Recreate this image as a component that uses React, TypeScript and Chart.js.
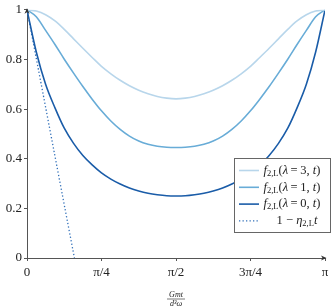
import { useEffect, useRef } from "react";
import { Chart, registerables } from "chart.js";
Chart.register(...registerables);

// time samples t (radians), step π/32
const T = [0, 0.098, 0.196, 0.295, 0.393, 0.491, 0.589, 0.687, 0.785, 0.884, 0.982, 1.08, 1.178, 1.276, 1.374, 1.473, 1.571,
  1.669, 1.767, 1.865, 1.963, 2.062, 2.16, 2.258, 2.356, 2.454, 2.553, 2.651, 2.749, 2.847, 2.945, 3.043, 3.142];
const F_LAMBDA3 = [1, 0.995, 0.98, 0.955, 0.921, 0.883, 0.845, 0.808, 0.772, 0.742, 0.716, 0.694, 0.676, 0.662, 0.651, 0.644, 0.641,
  0.644, 0.651, 0.662, 0.676, 0.694, 0.716, 0.742, 0.772, 0.808, 0.845, 0.883, 0.921, 0.955, 0.98, 0.995, 1];
const F_LAMBDA1 = [1, 0.972, 0.917, 0.86, 0.801, 0.745, 0.691, 0.64, 0.593, 0.552, 0.518, 0.491, 0.471, 0.458, 0.45, 0.446, 0.445,
  0.446, 0.45, 0.458, 0.471, 0.491, 0.518, 0.552, 0.593, 0.64, 0.691, 0.745, 0.801, 0.86, 0.917, 0.972, 1];
const F_LAMBDA0 = [1, 0.83, 0.7, 0.605, 0.523, 0.462, 0.413, 0.375, 0.343, 0.318, 0.298, 0.282, 0.27, 0.261, 0.255, 0.251, 0.25,
  0.251, 0.255, 0.261, 0.27, 0.282, 0.298, 0.318, 0.343, 0.375, 0.413, 0.462, 0.523, 0.605, 0.7, 0.83, 1];
const LINEAR_T = [0, 0.5];
const LINEAR_F = [1, 0];

const X_TICKS = [0, Math.PI / 4, Math.PI / 2, (3 * Math.PI) / 4, Math.PI];
const X_TICK_LABELS = ["0", "π/4", "π/2", "3π/4", "π"];
const Y_TICKS = [0, 0.2, 0.4, 0.6, 0.8, 1];
const Y_TICK_LABELS = ["0", "0.2", "0.4", "0.6", "0.8", "1"];

type Seg = { t: string; i?: boolean; sub?: boolean };
const LEGEND_LABELS: Seg[][] = [
  [{ t: "f", i: true }, { t: "2,L", sub: true }, { t: "(" }, { t: "λ", i: true }, { t: "\u2009=\u20093, " }, { t: "t", i: true }, { t: ")" }],
  [{ t: "f", i: true }, { t: "2,L", sub: true }, { t: "(" }, { t: "λ", i: true }, { t: "\u2009=\u20091, " }, { t: "t", i: true }, { t: ")" }],
  [{ t: "f", i: true }, { t: "2,L", sub: true }, { t: "(" }, { t: "λ", i: true }, { t: "\u2009=\u20090, " }, { t: "t", i: true }, { t: ")" }],
  [{ t: "1 − " }, { t: "η", i: true }, { t: "2,L", sub: true }, { t: "t", i: true }],
];

const FONT = '"Liberation Serif", "DejaVu Serif", serif';
const AXIS_COLOR = "#555";

function drawRich(ctx: CanvasRenderingContext2D, segs: Seg[], x: number, y: number, size: number, measure: boolean) {
  let cx = x;
  for (const s of segs) {
    const fs = s.sub ? size * 0.68 : size;
    ctx.font = `${s.i ? "italic " : ""}${fs}px ${FONT}`;
    const w = ctx.measureText(s.t).width;
    if (!measure) ctx.fillText(s.t, cx, s.sub ? y + size * 0.25 : y);
    cx += w;
  }
  return cx - x;
}

const overlay = {
  id: "overlay",
  afterDraw(chart: any) {
    const ctx: CanvasRenderingContext2D = chart.ctx;
    const { left, right, top, bottom } = chart.chartArea;
    ctx.save();
    // arrows
    ctx.fillStyle = "#333";
    ctx.beginPath();
    ctx.moveTo(right + 1.5, bottom);
    ctx.lineTo(right - 4, bottom - 2.5);
    ctx.lineTo(right - 2.5, bottom);
    ctx.lineTo(right - 4, bottom + 2.5);
    ctx.closePath();
    ctx.fill();
    ctx.beginPath();
    ctx.moveTo(left, top - 1.5);
    ctx.lineTo(left - 2.5, top + 4);
    ctx.lineTo(left, top + 2.5);
    ctx.lineTo(left + 2.5, top + 4);
    ctx.closePath();
    ctx.fill();

    // legend
    const bx = 234.5, by = 158.5, bw = 96, bh = 74;
    ctx.fillStyle = "#fff";
    ctx.fillRect(bx, by, bw, bh);
    ctx.strokeStyle = "#666";
    ctx.lineWidth = 1;
    ctx.strokeRect(bx, by, bw, bh);
    ctx.textBaseline = "middle";
    ctx.textAlign = "left";
    const sets = chart.data.datasets;
    for (let i = 0; i < LEGEND_LABELS.length; i++) {
      const y = 170.5 + i * 16.8;
      const ds = sets[i];
      ctx.save();
      ctx.strokeStyle = ds.borderColor;
      ctx.lineWidth = ds.borderWidth;
      ctx.setLineDash(ds.borderDash || []);
      ctx.beginPath();
      ctx.moveTo(239, y);
      ctx.lineTo(259, y);
      ctx.stroke();
      ctx.restore();
      ctx.fillStyle = "#222";
      const w = drawRich(ctx, LEGEND_LABELS[i], 0, y, 12.5, true);
      const sx = i < 3 ? 263.5 : 297 - w / 2;
      drawRich(ctx, LEGEND_LABELS[i], sx, y, 12.5, false);
    }

    // x-axis title as fraction
    const cx = chart.scales.x.getPixelForValue(Math.PI / 2);
    ctx.fillStyle = "#222";
    ctx.textAlign = "center";
    ctx.font = `italic 8px ${FONT}`;
    ctx.fillText("Gmt", cx, 294.5);
    ctx.fillText("d³ω", cx, 303.5);
    ctx.strokeStyle = "#222";
    ctx.lineWidth = 0.6;
    ctx.beginPath();
    ctx.moveTo(cx - 9, 299);
    ctx.lineTo(cx + 9, 299);
    ctx.stroke();
    ctx.restore();
  },
};

export default function App() {
  const ref = useRef<HTMLCanvasElement>(null);
  useEffect(() => {
    if (!ref.current) return;
    const mk = (xs: number[], ys: number[]) => xs.map((x, i) => ({ x, y: ys[i] }));
    const chart = new Chart(ref.current, {
      type: "line",
      data: {
        datasets: [
          { label: "f(λ=3,t)", data: mk(T, F_LAMBDA3), borderColor: "rgb(184,214,235)", borderWidth: 1.6, pointRadius: 0, cubicInterpolationMode: "monotone", fill: false },
          { label: "f(λ=1,t)", data: mk(T, F_LAMBDA1), borderColor: "rgb(104,172,215)", borderWidth: 1.6, pointRadius: 0, cubicInterpolationMode: "monotone", fill: false },
          { label: "f(λ=0,t)", data: mk(T, F_LAMBDA0), borderColor: "rgb(26,92,168)", borderWidth: 1.6, pointRadius: 0, cubicInterpolationMode: "monotone", fill: false },
          { label: "1-ηt", data: mk(LINEAR_T, LINEAR_F), borderColor: "rgb(50,112,185)", borderWidth: 1.3, borderDash: [1.3, 2.2], pointRadius: 0, fill: false },
        ] as any,
      },
      options: {
        animation: false,
        responsive: false,
        layout: { padding: { top: 8, right: 9, left: 0, bottom: 0 } },
        plugins: { legend: { display: false }, tooltip: { enabled: false } },
        scales: {
          x: {
            type: "linear",
            min: 0,
            max: Math.PI,
            afterBuildTicks: (s: any) => { s.ticks = X_TICKS.map((v) => ({ value: v })); },
            afterFit: (s: any) => { s.height = 49; },
            ticks: {
              autoSkip: false,
              maxRotation: 0,
              padding: 4,
              color: "#222",
              font: { family: FONT, size: 13 },
              callback: (_v: any, i: number) => X_TICK_LABELS[i],
            },
            grid: { drawOnChartArea: false, drawTicks: true, tickLength: 3, color: AXIS_COLOR },
            border: { display: true, color: AXIS_COLOR, width: 1 },
          },
          y: {
            type: "linear",
            min: 0,
            max: 1,
            afterBuildTicks: (s: any) => { s.ticks = Y_TICKS.map((v) => ({ value: v })); },
            afterFit: (s: any) => { s.width = 27; },
            ticks: {
              autoSkip: false,
              padding: 2,
              color: "#222",
              font: { family: FONT, size: 13 },
              callback: (_v: any, i: number) => Y_TICK_LABELS[i],
            },
            grid: { drawOnChartArea: false, drawTicks: true, tickLength: 3, color: AXIS_COLOR },
            border: { display: true, color: AXIS_COLOR, width: 1 },
          },
        },
      },
      plugins: [overlay],
    });
    return () => chart.destroy();
  }, []);
  return (
    <div style={{ position: "absolute", left: 0, top: 0, width: 334, height: 307, background: "#fff" }}>
      <canvas ref={ref} width={334} height={307} style={{ width: 334, height: 307 }} />
    </div>
  );
}
